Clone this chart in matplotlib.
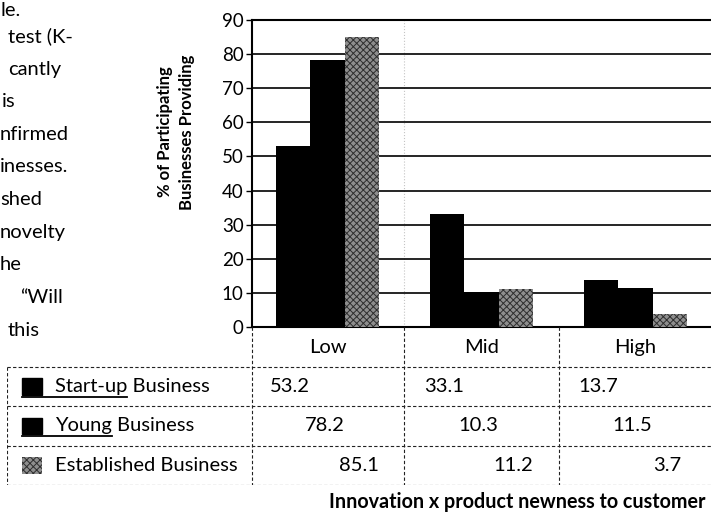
import matplotlib
matplotlib.use("Agg")
import matplotlib.pyplot as plt
import numpy as np

plt.rcParams["font.family"] = ["Lato", "DejaVu Sans"]
plt.rcParams["hatch.linewidth"] = 0.7

categories = ["Low", "Mid", "High"]
series = ["Start-up Business", "Young Business", "Established Business"]
startup = [53.2, 33.1, 13.7]
young = [78.2, 10.3, 11.5]
established = [85.1, 11.2, 3.7]
yticks = list(range(0, 100, 10))

side_text = ["le.", "test (K-", "cantly", "is", "nfirmed", "inesses.",
             "shed", "novelty", "he", "\u201cWill", "this"]
side_x = [0, 8, 8, 2, 0, 0, 0, 0, 0, 20, 8]

W, H = 711, 514
fig = plt.figure(figsize=(W / 100, H / 100), dpi=100)

def box(l, r, t, b):
    return [l / W, 1 - b / H, (r - l) / W, (b - t) / H]

grey = dict(facecolor="#8e8e8e", hatch="xxxxx", edgecolor="#2e2e2e", linewidth=0)

ax = fig.add_axes(box(252, 711, 20, 327))
x = np.arange(len(categories))
bw = 0.224
ax.bar(x - bw, startup, bw, color="black", zorder=3)
ax.bar(x, young, bw, color="black", zorder=3)
ax.bar(x + bw, established, bw, zorder=3, **grey)
ax.set_xlim(-0.49, 2.49)
ax.set_ylim(0, 90)
ax.set_yticks(yticks)
ax.set_xticks([])
ax.yaxis.grid(True, color="black", lw=1.2)
ax.axvline(0.5, color="#c4c4c4", lw=0.8, ls=":", zorder=1)
ax.tick_params(axis="y", labelsize=13.5, length=4, width=1, pad=2)
ax.spines["right"].set_visible(False)
for s in ["left", "top", "bottom"]:
    ax.spines[s].set_linewidth(1.5)
fig.text(176 / W, 1 - 132 / H, "% of Participating\nBusinesses Providing",
         rotation=90, ha="center", va="center", fontsize=12,
         fontweight="bold", linespacing=1.45)

# table under the plot, same x scale
px_per_unit = (711 - 252) / (2.49 + 0.49)
left_data = -0.49 - (252 - 7) / px_per_unit
tab = fig.add_axes(box(7, 711, 327, 485))
tab.set_xlim(left_data, 2.49)
tab.set_ylim(4, 0)
tab.axis("off")
ls = dict(color="#222222", lw=0.8, ls=(0, (3, 2)))
for yy in [1, 2, 3, 4]:
    tab.plot([left_data, 2.49], [yy, yy], **ls)
tab.plot([left_data, left_data], [1, 4], **ls)
for xx in [-0.49, 0.5, 1.5]:
    tab.plot([xx, xx], [0, 4], **ls)

fs = 14.5
for i, c in enumerate(categories):
    tab.text(i, 0.52, c, ha="center", va="center", fontsize=fs)

rows = [startup, young, established]
offsets = [-bw, 0, bw]
for r, (vals, off) in enumerate(zip(rows, offsets)):
    for i, v in enumerate(vals):
        tab.text(i + off - 0.02, r + 1.5, f"{v:.1f}", ha="center", va="center",
                 fontsize=fs)

sq = 20 / px_per_unit
sq_x = left_data + 15 / px_per_unit
lab_x = left_data + 48 / px_per_unit
fills = [dict(color="black"), dict(color="black"), grey]
fig.canvas.draw()
rend = fig.canvas.get_renderer()
for r, (name, f) in enumerate(zip(series, fills)):
    tab.add_patch(plt.Rectangle((sq_x, r + 1.3), sq, 0.42, **f))
    tab.text(lab_x, r + 1.5, name, ha="left", va="center", fontsize=fs)
    if r < 2:
        first = name.split()[0]
        tw = tab.text(lab_x, r + 1.5, first, ha="left", va="center",
                      fontsize=fs, alpha=0)
        bb = tw.get_window_extent(rend).transformed(tab.transData.inverted())
        tab.plot([sq_x, bb.x1], [r + 1.76, r + 1.76], color="black", lw=1.3)

fig.text(517 / W, 1 - 502 / H, "Innovation x product newness to customer",
         ha="center", va="center", fontsize=14.2, fontweight="bold")

for k, (s, xp) in enumerate(zip(side_text, side_x)):
    yp = max(11, 4 + k * 32.6)
    fig.text(xp / W, 1 - yp / H, s, ha="left", va="center", fontsize=fs)

fig.savefig("out.png", dpi=100)
